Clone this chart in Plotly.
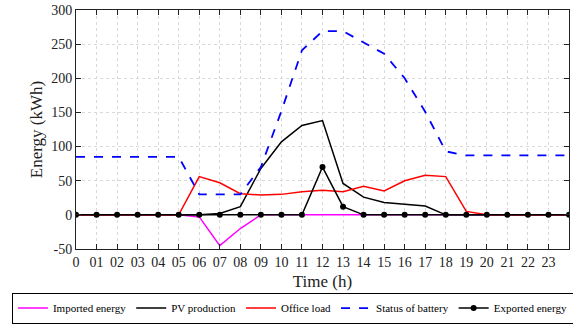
import plotly.graph_objects as go

hours = list(range(25))
tick_labels = ["0"] + [f"{h:02d}" for h in range(1, 24)]

imported = [0, 0, 0, 0, 0, 0, -3, -45, -20, 0, 0, 0, 0, 0, 0, 0, 0, 0, 0, 0, 0, 0, 0, 0, 0]
pv = [0, 0, 0, 0, 0, 0, 0, 2, 12, 68, 107, 131, 138, 46, 26, 18, 15, 13, 0, 0, 0, 0, 0, 0, 0]
office = [0, 0, 0, 0, 0, 0, 56, 47, 31, 29, 30, 34, 36, 34, 42, 35, 50, 58, 56, 5, 0, 0, 0, 0, 0]
battery = [85, 85, 85, 85, 85, 85, 30, 30, 30, 70, 152, 241, 269, 269, 252, 236, 200, 151, 93, 87, 87, 87, 87, 87, 87]
exported = [0, 0, 0, 0, 0, 0, 0, 0, 0, 0, 0, 0, 70, 12, 0, 0, 0, 0, 0, 0, 0, 0, 0, 0, 0]

y_ticks = [-50, 0, 50, 100, 150, 200, 250, 300]
y_labels = ["-50", "0", "50", "100", "150", "200", "250", "300"]

font = "Liberation Serif"

fig = go.Figure()
fig.add_trace(go.Scatter(x=hours, y=imported, mode="lines", name="Imported energy",
                         line=dict(color="#ff00ff", width=1.5)))
fig.add_trace(go.Scatter(x=hours, y=pv, mode="lines", name="PV production",
                         line=dict(color="black", width=1.5)))
fig.add_trace(go.Scatter(x=hours, y=office, mode="lines", name="Office load",
                         line=dict(color="red", width=1.5)))
fig.add_trace(go.Scatter(x=hours, y=battery, mode="lines", name="Status of battery",
                         line=dict(color="blue", width=1.8, dash="dash")))
fig.add_trace(go.Scatter(x=hours, y=exported, mode="lines+markers", name="Exported energy",
                         line=dict(color="black", width=1.5),
                         marker=dict(symbol="circle", size=6, color="black")))

fig.update_layout(
    width=573, height=327,
    margin=dict(l=76, r=4, t=10, b=78, autoexpand=False),
    paper_bgcolor="white", plot_bgcolor="white",
    font=dict(family=font, size=14, color="#222"),
    legend=dict(orientation="h", x=-0.13, y=-0.312, xanchor="left", yanchor="bottom",
                bordercolor="black", borderwidth=1, font=dict(size=11, color="black"),
                tracegroupgap=0, itemwidth=30),
)
fig.update_xaxes(range=[0, 24], tickmode="array", tickvals=list(range(24)), ticktext=tick_labels,
                 ticks="inside", ticklen=5, tickcolor="#222", showline=True, linecolor="#222",
                 linewidth=1, mirror="ticks", showgrid=True, gridcolor="#d9d9d9", griddash="dot",
                 zeroline=False, title=dict(text="Time (h)", standoff=6))
fig.update_yaxes(range=[-50, 300], tickmode="array", tickvals=y_ticks, ticktext=y_labels,
                 ticks="inside", ticklen=5, tickcolor="#222", showline=True, linecolor="#222",
                 linewidth=1, mirror="ticks", showgrid=True, gridcolor="#d9d9d9", griddash="dot",
                 zeroline=False, title=dict(text="Energy (kWh)", standoff=4))

fig.write_html("out.html")
